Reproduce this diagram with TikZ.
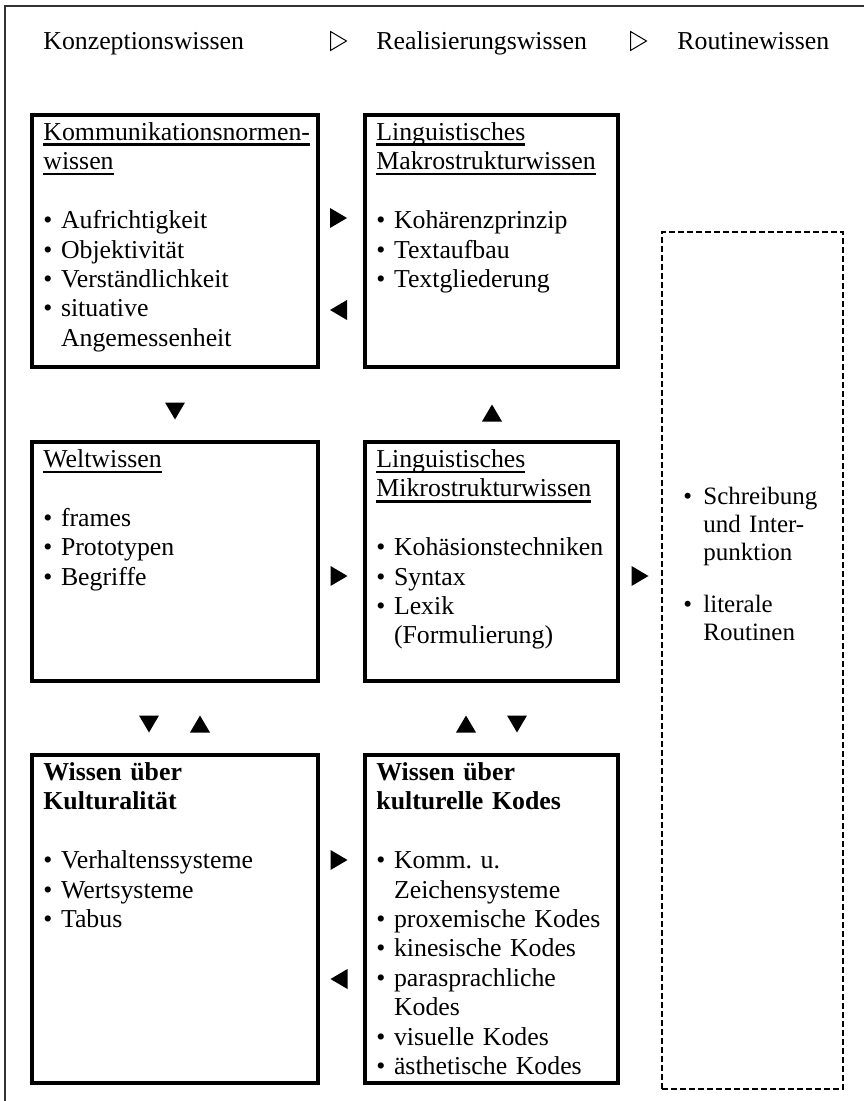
\documentclass[tikz,border=0pt]{standalone}
\usepackage{fontspec}
\setmainfont{Liberation Serif}
\usepackage{tikz}
\usetikzlibrary{calc}

\frenchspacing
\newsavebox{\kulbox}
\newcommand{\kul}[1]{\leavevmode\sbox{\kulbox}{#1}\rlap{\rule[-2.8pt]{\wd\kulbox}{1.3pt}}\usebox{\kulbox}}
\newcommand{\kfont}{\fontsize{12.9pt}{14.7pt}\selectfont}
\newcommand{\rfont}{\fontsize{12.5pt}{14pt}\selectfont}
\newcommand{\kindent}{\hphantom{\textbullet\ }}

\tikzset{
  tri/.pic={\fill (-8.5,-10) -- (8.5,0) -- (-8.5,10) -- cycle;},
  otri/.pic={\draw[line width=0.5pt, line join=miter] (-8,-9.5) -- (8,0) -- (-8,9.5) -- cycle;}
}

\begin{document}
\begin{tikzpicture}[x=0.5pt, y=-0.5pt,
  kbox/.style={draw, line width=1.6pt, anchor=north west, inner sep=0pt, outer sep=0pt},
  lcol/.style={kbox, minimum width=143pt},
  rcol/.style={kbox, minimum width=126.5pt},
  dbox/.style={kbox, line width=1.3pt, dash pattern=on 3pt off 1.5pt},
  ktext/.style={anchor=base west, inner sep=0pt, align=left, font=\kfont},
  hdr/.style={anchor=base west, inner sep=0pt, font=\kfont}]
  \useasboundingbox (0,0) rectangle (864,1101);

  % Outer frame (open to the right and bottom)
  \draw[black!80, line width=1pt] (5,1101) -- (5,6) -- (864,6);

  % Header line
  \node[hdr] (hKonz) at (43,50) {Konzeptionswissen};
  \node[hdr] (hReal) at (376,50) {Realisierungswissen};
  \node[hdr] (hRout) at (677,50) {Routinewissen};
  \pic at (338.5,41) {otri};
  \pic at (638.5,41) {otri};

  % Boxes
  \node[lcol, minimum height=126pt] (komm) at (32,115) {};
  \node[rcol, minimum height=126pt] (makro) at (365,115) {};
  \node[lcol, minimum height=119.5pt] (welt) at (32,442) {};
  \node[rcol, minimum height=119.5pt] (mikro) at (365,442) {};
  \node[lcol, minimum height=164pt] (kultur) at (32,755) {};
  \node[rcol, minimum height=164pt] (kodes) at (365,755) {};
  \node[dbox, minimum width=90.5pt, minimum height=428.5pt] (routine) at (662,232) {};

  % Box texts
  \node[ktext, text width=138pt] (kommText) at ($(komm.north west)+(11,25.5)$)
    {\kul{Kommunikationsnormen-}\\
     \kul{wissen}\\[14.7pt]
     \textbullet\ Aufrichtigkeit\\
     \textbullet\ Objektivität\\
     \textbullet\ Verständlichkeit\\
     \textbullet\ situative\\
     \kindent Angemessenheit};
  \node[ktext, text width=122pt] (makroText) at ($(makro.north west)+(11,25.5)$)
    {\kul{Linguistisches}\\
     \kul{Makrostrukturwissen}\\[14.7pt]
     \textbullet\ Kohärenzprinzip\\
     \textbullet\ Textaufbau\\
     \textbullet\ Textgliederung};
  \node[ktext, text width=138pt] (weltText) at ($(welt.north west)+(11,25.5)$)
    {\kul{Weltwissen}\\[14.7pt]
     \textbullet\ frames\\
     \textbullet\ Prototypen\\
     \textbullet\ Begriffe};
  \node[ktext, text width=122pt] (mikroText) at ($(mikro.north west)+(11,25.5)$)
    {\kul{Linguistisches}\\
     \kul{Mikrostrukturwissen}\\[14.7pt]
     \textbullet\ Kohäsionstechniken\\
     \textbullet\ Syntax\\
     \textbullet\ Lexik\\
     \kindent(Formulierung)};
  \node[ktext, text width=138pt] (kulturText) at ($(kultur.north west)+(11,25.5)$)
    {\textbf{Wissen über}\\
     \textbf{Kulturalität}\\[14.7pt]
     \textbullet\ Verhaltenssysteme\\
     \textbullet\ Wertsysteme\\
     \textbullet\ Tabus};
  \node[ktext, text width=122pt] (kodesText) at ($(kodes.north west)+(11,25.5)$)
    {\textbf{Wissen über}\\
     \textbf{kulturelle Kodes}\\[14.7pt]
     \textbullet\ Komm. u.\\
     \kindent Zeichensysteme\\
     \textbullet\ proxemische Kodes\\
     \textbullet\ kinesische Kodes\\
     \textbullet\ parasprachliche\\
     \kindent Kodes\\
     \textbullet\ visuelle Kodes\\
     \textbullet\ ästhetische Kodes};
  \node[ktext, font=\rfont, text width=85pt] (routineText) at ($(routine.north west)+(21,272)$)
    {\makebox[10pt][l]{\textbullet}Schreibung\\
     \hspace*{10pt}und Inter-\\
     \hspace*{10pt}punktion\\[12pt]
     \makebox[10pt][l]{\textbullet}literale\\
     \hspace*{10pt}Routinen};

  % Triangles between the boxes
  \pic at (338.5,218) {tri};
  \pic[rotate=180] at (338.5,310) {tri};
  \pic[rotate=-90] at (175,411) {tri};
  \pic[rotate=90] at (492,413) {tri};
  \pic at (339,576) {tri};
  \pic at (640,576) {tri};
  \pic[rotate=-90] at (149,724) {tri};
  \pic[rotate=90] at (200,724) {tri};
  \pic[rotate=90] at (466,724) {tri};
  \pic[rotate=-90] at (517,724) {tri};
  \pic at (339,860) {tri};
  \pic[rotate=180] at (339,979) {tri};
\end{tikzpicture}
\end{document}
